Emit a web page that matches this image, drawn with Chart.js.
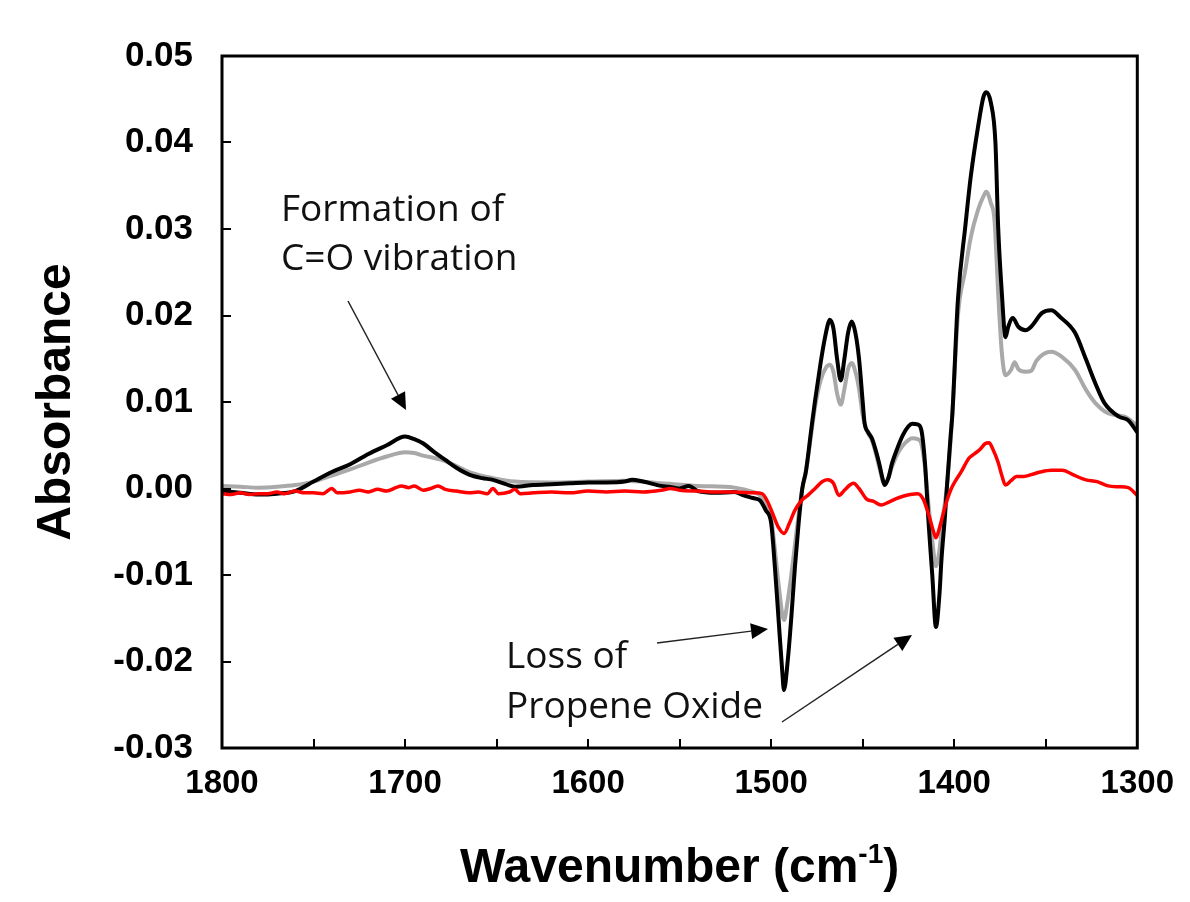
<!DOCTYPE html>
<html>
<head>
<meta charset="utf-8">
<script src="https://cdn.jsdelivr.net/npm/chart.js@4.4.0/dist/chart.umd.min.js"></script>
<style>
  html, body { margin: 0; padding: 0; background: #fff; }
</style>
</head>
<body>
<canvas id="chart" width="1190" height="902"></canvas>
<script>
// spectra (wavenumber in cm-1, absorbance)
const wnBlack = [1800, 1790, 1780, 1770, 1760, 1750, 1740, 1730, 1720, 1710, 1700, 1695, 1690, 1684, 1678, 1672, 1665, 1658, 1652, 1645, 1640, 1630, 1620, 1610, 1600, 1590, 1580, 1576, 1570, 1560, 1556, 1550, 1545, 1540, 1530, 1520, 1515, 1510, 1506, 1503, 1500, 1498, 1496, 1494, 1493, 1491, 1489, 1487, 1485, 1483, 1481, 1478, 1476, 1473, 1471, 1469, 1468, 1466, 1464, 1462, 1460, 1458, 1456, 1454, 1452, 1450, 1449, 1447, 1445, 1443, 1441, 1439, 1438, 1436, 1434, 1431, 1428, 1425, 1423, 1420, 1418, 1416, 1414, 1412, 1410, 1408, 1407, 1405, 1404, 1402, 1401, 1398, 1394, 1391, 1387, 1384, 1382.5, 1380, 1377.5, 1376, 1374, 1372, 1370.5, 1368, 1365, 1361, 1358, 1352, 1347, 1342, 1334, 1328, 1323, 1318, 1310, 1305, 1300]
const absBlack = [-0.0003, -0.0005, -0.0007, -0.0006, -0.0003, 0.0008, 0.0019, 0.0028, 0.0040, 0.0050, 0.0060, 0.0057, 0.0052, 0.0042, 0.0033, 0.0024, 0.0016, 0.0012, 0.0010, 0.0005, 0.0002, 0.0004, 0.0005, 0.0006, 0.0007, 0.0007, 0.0008, 0.0010, 0.0008, 0.0003, 0.0002, 0.0000, 0.0003, -0.0003, -0.0005, -0.0004, -0.0008, -0.0011, -0.0014, -0.0025, -0.0040, -0.0090, -0.0150, -0.0210, -0.0233, -0.0200, -0.0149, -0.0090, -0.0040, 0.0000, 0.0020, 0.0070, 0.0102, 0.0145, 0.0170, 0.0190, 0.0195, 0.0185, 0.0150, 0.0125, 0.0150, 0.0180, 0.0193, 0.0180, 0.0150, 0.0100, 0.0076, 0.0065, 0.0058, 0.0045, 0.0029, 0.0010, 0.0004, 0.0012, 0.0029, 0.0047, 0.0062, 0.0072, 0.0075, 0.0074, 0.0068, 0.0030, -0.0040, -0.0100, -0.0160, -0.0120, -0.0083, -0.0030, 0.0002, 0.0060, 0.0087, 0.0218, 0.0302, 0.0360, 0.0418, 0.0453, 0.0458, 0.0446, 0.0400, 0.0302, 0.0226, 0.0175, 0.0187, 0.0197, 0.0187, 0.0183, 0.0187, 0.0203, 0.0206, 0.0198, 0.0180, 0.0149, 0.0122, 0.0099, 0.0083, 0.0079, 0.0065]

const wnGray = [1800, 1790, 1780, 1770, 1760, 1750, 1740, 1730, 1720, 1710, 1700, 1695, 1690, 1680, 1673, 1665, 1652, 1640, 1620, 1600, 1580, 1560, 1540, 1520, 1510, 1506, 1503, 1500, 1498, 1496, 1493, 1491, 1489, 1487, 1485, 1483, 1481, 1478, 1476, 1473, 1470, 1468, 1466, 1464, 1462, 1460, 1458, 1456, 1454, 1452, 1450, 1448, 1445, 1443, 1441, 1438, 1436, 1434, 1431, 1428, 1425, 1423, 1420, 1418, 1416, 1414, 1412, 1410, 1408, 1406, 1404, 1402, 1401, 1398, 1394, 1391, 1387, 1384, 1382.5, 1380, 1378, 1376, 1374, 1372, 1369, 1367, 1365, 1361, 1358, 1355, 1347, 1341, 1334, 1328, 1323, 1316, 1307, 1300]
const absGray = [0.0003, 0.0002, 0.0001, 0.0002, 0.0004, 0.0008, 0.0015, 0.0022, 0.0030, 0.0037, 0.0042, 0.0041, 0.0038, 0.0033, 0.0027, 0.0019, 0.0012, 0.0008, 0.0007, 0.0008, 0.0009, 0.0006, 0.0003, 0.0001, -0.0004, -0.0008, -0.0020, -0.0035, -0.0070, -0.0110, -0.0152, -0.0130, -0.0100, -0.0065, -0.0030, 0.0000, 0.0020, 0.0065, 0.0095, 0.0125, 0.0140, 0.0143, 0.0135, 0.0110, 0.0097, 0.0115, 0.0138, 0.0145, 0.0135, 0.0115, 0.0085, 0.0068, 0.0056, 0.0042, 0.0025, 0.0005, 0.0012, 0.0025, 0.0040, 0.0050, 0.0056, 0.0058, 0.0057, 0.0052, 0.0025, -0.0020, -0.0060, -0.0090, -0.0070, -0.0030, 0.0002, 0.0055, 0.0087, 0.0200, 0.0252, 0.0290, 0.0322, 0.0338, 0.0343, 0.0330, 0.0310, 0.0226, 0.0157, 0.0131, 0.0137, 0.0146, 0.0138, 0.0135, 0.0136, 0.0148, 0.0158, 0.0152, 0.0137, 0.0114, 0.0099, 0.0087, 0.0083, 0.0073]

const wnRed = [1800, 1795, 1790, 1785, 1780, 1775, 1770, 1766, 1760, 1755, 1750, 1745, 1740, 1737, 1730, 1725, 1720, 1715, 1710, 1705, 1702, 1698, 1695, 1690, 1686, 1682, 1678, 1672, 1665, 1660, 1655, 1652, 1649, 1643, 1640, 1637, 1630, 1620, 1610, 1600, 1590, 1580, 1570, 1560, 1555, 1550, 1540, 1530, 1520, 1510, 1505, 1502, 1499, 1496, 1493, 1490, 1487, 1483, 1480, 1476, 1472, 1469, 1466, 1463, 1460, 1457, 1455, 1452, 1448, 1444, 1440, 1436, 1432, 1428, 1424, 1420, 1417, 1414, 1411, 1410, 1408, 1405, 1402, 1399, 1396, 1392, 1389, 1386, 1383, 1381, 1379, 1376, 1374, 1372, 1369, 1366, 1362, 1358, 1353, 1347, 1341, 1336, 1332, 1328, 1322, 1316, 1310, 1305, 1300]
const absRed = [-0.0006, -0.0007, -0.0005, -0.0007, -0.0006, -0.0006, -0.0004, -0.0006, -0.0003, -0.0005, -0.0005, -0.0006, 0.0000, -0.0005, -0.0004, -0.0002, -0.0004, -0.0001, -0.0003, 0.0001, 0.0003, 0.0001, 0.0003, -0.0002, 0.0000, 0.0003, -0.0001, -0.0003, -0.0005, -0.0004, -0.0006, 0.0000, -0.0006, -0.0004, -0.0001, -0.0006, -0.0005, -0.0004, -0.0005, -0.0003, -0.0004, -0.0003, -0.0004, -0.0002, 0.0000, -0.0002, -0.0003, -0.0004, -0.0004, -0.0005, -0.0006, -0.0015, -0.0030, -0.0045, -0.0052, -0.0040, -0.0025, -0.0013, -0.0008, 0.0000, 0.0008, 0.0010, 0.0006, -0.0008, -0.0002, 0.0004, 0.0006, 0.0000, -0.0012, -0.0015, -0.0019, -0.0016, -0.0012, -0.0009, -0.0007, -0.0006, -0.0012, -0.0030, -0.0052, -0.0057, -0.0045, -0.0021, -0.0002, 0.0010, 0.0020, 0.0035, 0.0040, 0.0045, 0.0052, 0.0053, 0.0046, 0.0030, 0.0015, 0.0004, 0.0009, 0.0014, 0.0014, 0.0016, 0.0019, 0.0021, 0.0021, 0.0017, 0.0013, 0.0010, 0.0008, 0.0003, 0.0002, 0.0001, -0.0008]

const xTickLabels = [1800, 1700, 1600, 1500, 1400, 1300]
const yTickLabels = ["0.05", "0.04", "0.03", "0.02", "0.01", "0.00", "-0.01", "-0.02", "-0.03"]

function pts(xs, ys) {
  return xs.map((x, i) => ({ x: x, y: ys[i] }))
}

function arrow(ctx, x1, y1, x2, y2) {
  const ang = Math.atan2(y2 - y1, x2 - x1)
  const len = 17, half = 8
  const bx = x2 - len * Math.cos(ang), by = y2 - len * Math.sin(ang)
  ctx.beginPath()
  ctx.moveTo(x1, y1)
  ctx.lineTo(bx, by)
  ctx.stroke()
  ctx.beginPath()
  ctx.moveTo(x2, y2)
  ctx.lineTo(bx + half * Math.sin(ang), by - half * Math.cos(ang))
  ctx.lineTo(bx - half * Math.sin(ang), by + half * Math.cos(ang))
  ctx.closePath()
  ctx.fill()
}

// frame, inward ticks, titles and the annotations
const decorations = {
  id: "decorations",
  afterDatasetsDraw(chart) {
    const ctx = chart.ctx
    const a = chart.chartArea
    const xs = chart.scales.x, ys = chart.scales.y
    ctx.save()
    ctx.strokeStyle = "#000"
    ctx.lineWidth = 2
    for (let v = 1300; v <= 1800; v += 50) {
      const px = Math.round(xs.getPixelForValue(v))
      ctx.beginPath()
      ctx.moveTo(px, a.bottom)
      ctx.lineTo(px, a.bottom - 9)
      ctx.stroke()
    }
    yTickLabels.forEach(t => {
      const py = Math.round(ys.getPixelForValue(Number(t)))
      ctx.beginPath()
      ctx.moveTo(a.left, py)
      ctx.lineTo(a.left + 9, py)
      ctx.stroke()
    })
    ctx.lineWidth = 3
    ctx.strokeRect(a.left, a.top, a.right - a.left, a.bottom - a.top)
    ctx.restore()
  },
  afterDraw(chart) {
    const ctx = chart.ctx
    const a = chart.chartArea
    ctx.save()
    ctx.fillStyle = "#000"

    // y title
    ctx.save()
    ctx.translate(57, (a.top + a.bottom) / 2)
    ctx.rotate(-Math.PI / 2)
    ctx.font = "bold 48px 'Liberation Sans', Arial, sans-serif"
    ctx.textAlign = "center"
    ctx.textBaseline = "middle"
    ctx.fillText("Absorbance", 0, 0)
    ctx.restore()

    // x title with superscript
    const main = "Wavenumber (cm"
    ctx.font = "bold 48px 'Liberation Sans', Arial, sans-serif"
    const w1 = ctx.measureText(main).width
    const w3 = ctx.measureText(")").width
    ctx.font = "bold 28px 'Liberation Sans', Arial, sans-serif"
    const w2 = ctx.measureText("-1").width
    let x0 = (a.left + a.right) / 2 - (w1 + w2 + w3) / 2
    const base = 882
    ctx.textBaseline = "alphabetic"
    ctx.textAlign = "left"
    ctx.font = "bold 48px 'Liberation Sans', Arial, sans-serif"
    ctx.fillText(main, x0, base)
    ctx.font = "bold 28px 'Liberation Sans', Arial, sans-serif"
    ctx.fillText("-1", x0 + w1, base - 19)
    ctx.font = "bold 48px 'Liberation Sans', Arial, sans-serif"
    ctx.fillText(")", x0 + w1 + w2, base)

    // annotations
    ctx.font = "37px 'Open Sans', Calibri, sans-serif"
    ctx.fillStyle = "#111"
    ctx.fillText("Formation of", 281, 221)
    ctx.fillText("C=O vibration", 281, 270)
    ctx.fillText("Loss of", 506, 668)
    ctx.fillText("Propene Oxide", 506, 718)

    ctx.strokeStyle = "#222"
    ctx.fillStyle = "#000"
    ctx.lineWidth = 1.5
    arrow(ctx, 348, 301, 406, 410)
    arrow(ctx, 657, 643, 768, 629)
    arrow(ctx, 782, 722, 912, 635)
    ctx.restore()
  }
}

const lineStyle = {
  pointRadius: 0,
  fill: false,
  cubicInterpolationMode: "monotone",
  tension: 0.4
}

new Chart(document.getElementById("chart"), {
  type: "line",
  data: {
    datasets: [
      { label: "red", data: pts(wnRed, absRed), borderColor: "#ff0000", borderWidth: 3.5, order: 0, ...lineStyle },
      { label: "black", data: pts(wnBlack, absBlack), borderColor: "#000000", borderWidth: 4, order: 1, ...lineStyle },
      { label: "gray", data: pts(wnGray, absGray), borderColor: "#a9a9a9", borderWidth: 4, order: 2, ...lineStyle }
    ]
  },
  options: {
    responsive: false,
    animation: false,
    devicePixelRatio: 1,
    layout: { padding: { top: 56, right: 51, left: 0, bottom: 0 } },
    plugins: {
      legend: { display: false },
      tooltip: { enabled: false }
    },
    scales: {
      x: {
        type: "linear",
        reverse: true,
        min: 1300,
        max: 1800,
        afterFit: s => { s.height = 154 },
        afterBuildTicks: s => { s.ticks = xTickLabels.map(v => ({ value: v })) },
        grid: { display: false, drawTicks: false },
        border: { display: false },
        ticks: {
          autoSkip: false,
          maxRotation: 0,
          padding: 16,
          color: "#000",
          font: { family: "'Liberation Sans', Arial, sans-serif", size: 33, weight: "bold" },
          callback: v => String(v)
        }
      },
      y: {
        type: "linear",
        min: -0.03,
        max: 0.05,
        afterFit: s => { s.width = 222 },
        afterBuildTicks: s => { s.ticks = yTickLabels.map(t => ({ value: Number(t) })) },
        grid: { display: false, drawTicks: false },
        border: { display: false },
        ticks: {
          padding: 29,
          color: "#000",
          font: { family: "'Liberation Sans', Arial, sans-serif", size: 35, weight: "bold" },
          callback: v => v.toFixed(2)
        }
      }
    }
  },
  plugins: [decorations]
})
</script>
</body>
</html>
